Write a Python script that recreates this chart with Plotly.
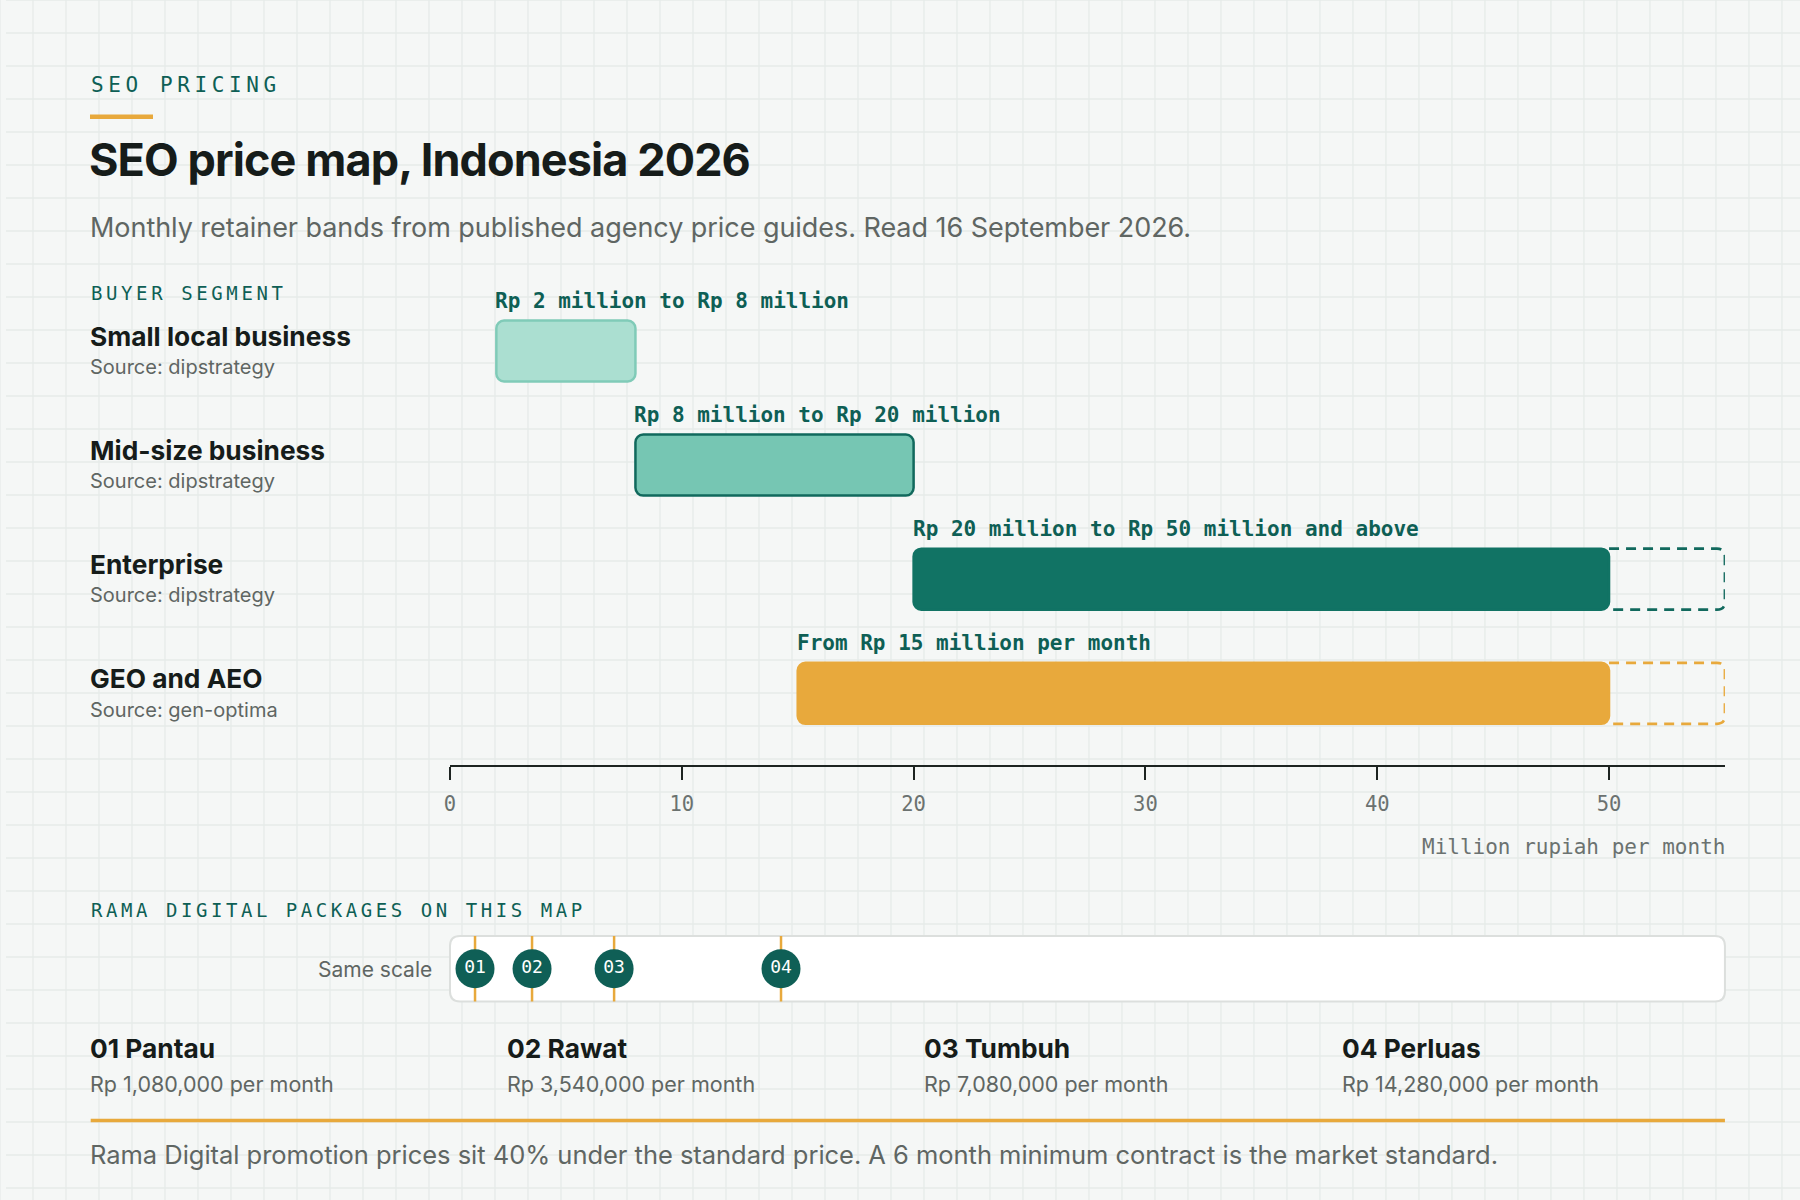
import plotly.graph_objects as go

# ---------------- data ----------------
segments = ["Small local business", "Mid-size business", "Enterprise", "GEO and AEO"]
sources = ["dipstrategy", "dipstrategy", "dipstrategy", "gen-optima"]
band_low = [2, 8, 20, 15]
band_high = [8, 20, 50, 50]
open_ended = [False, False, True, True]
band_labels = [
    "Rp 2 million to Rp 8 million",
    "Rp 8 million to Rp 20 million",
    "Rp 20 million to Rp 50 million and above",
    "From Rp 15 million per month",
]
axis_max = 55
tick_values = [0, 10, 20, 30, 40, 50]

package_codes = ["01", "02", "03", "04"]
package_names = ["Pantau", "Rawat", "Tumbuh", "Perluas"]
package_prices = [1080000, 3540000, 7080000, 14280000]

# ---------------- style ----------------
W, H = 1800, 1200
BG = "#f5f7f6"
GRID = "#e6ebe9"
TEAL_TXT = "#0e5f55"
DARK = "#161c1a"
GRAY = "#5f6663"
TICKGRAY = "#6b7270"
ORANGE = "#e8a93c"
MARK = "#0f5f56"
fills = ["#abdfd1", "#76c6b3", "#117364", ORANGE]
lines = ["#80cbb8", "#11695d", "#117364", ORANGE]
ext_colors = ["#11695d", "#11695d", "#11695d", ORANGE]

SANS = "Inter"
MONO = "DejaVu Sans Mono"

# small horizontal calibration of the page placement
OFFX, SX = 6.0, 0.9967


def px(x):
    return ((x - OFFX) / SX) / W


def py(y):
    return 1 - y / H


X_LEFT, X_RIGHT = 450, 1725
AXIS_PX = 764.6
TOP_PX = 250
ROW0_PX = 351
ROW_STEP = 114.1
BAR_PX = 61
bar_w = BAR_PX / ROW_STEP
y_bottom = (AXIS_PX - ROW0_PX) / ROW_STEP
y_top = (TOP_PX - ROW0_PX) / ROW_STEP
unit_px = (X_RIGHT - X_LEFT) / axis_max
TX = 88  # left edge of text column

rows = list(range(len(segments)))

fig = go.Figure()

fig.add_trace(go.Bar(
    y=rows,
    base=band_low,
    x=[h - l for l, h in zip(band_low, band_high)],
    orientation="h",
    width=bar_w,
    marker=dict(color=fills, line=dict(color=lines, width=2.5), cornerradius=8),
    hoverinfo="skip",
    showlegend=False,
))

fig.add_trace(go.Scatter(
    x=[p / 1e6 for p in package_prices],
    y=[0] * len(package_prices),
    xaxis="x2",
    yaxis="y2",
    mode="markers+text",
    text=package_codes,
    textposition="middle center",
    marker=dict(size=39, color=MARK),
    textfont=dict(family=MONO, size=18, color="white"),
    hoverinfo="skip",
    showlegend=False,
))

shapes = []
# background grid
for i in range(0, W // 33 + 1):
    shapes.append(dict(type="line", xref="paper", yref="paper", x0=px(i * 33), x1=px(i * 33),
                       y0=0, y1=1, line=dict(color=GRID, width=1.3), layer="below"))
for j in range(0, H // 33 + 1):
    shapes.append(dict(type="line", xref="paper", yref="paper", x0=0, x1=1,
                       y0=py(j * 33), y1=py(j * 33), line=dict(color=GRID, width=1.3), layer="below"))

# short orange rule under kicker
shapes.append(dict(type="rect", xref="paper", yref="paper", x0=px(90), x1=px(153),
                   y0=py(119), y1=py(114.5), fillcolor=ORANGE, line=dict(width=0), layer="below"))

# package strip
sx0, sx1 = px(X_LEFT), px(X_RIGHT)
sy0, sy1 = py(1001.5), py(936)
rx, ry = 10 / W, 10 / H
strip_path = (f"M {sx0+rx},{sy1} L {sx1-rx},{sy1} Q {sx1},{sy1} {sx1},{sy1-ry} "
              f"L {sx1},{sy0+ry} Q {sx1},{sy0} {sx1-rx},{sy0} L {sx0+rx},{sy0} "
              f"Q {sx0},{sy0} {sx0},{sy0+ry} L {sx0},{sy1-ry} Q {sx0},{sy1} {sx0+rx},{sy1} Z")
shapes.append(dict(type="path", xref="paper", yref="paper", path=strip_path,
                   fillcolor="white", line=dict(color="#dcdfdd", width=2), layer="below"))
for p in package_prices:
    shapes.append(dict(type="line", xref="x", yref="paper", x0=p / 1e6, x1=p / 1e6,
                       y0=sy0, y1=sy1, line=dict(color=ORANGE, width=2.5), layer="below"))

# dashed open-ended extensions
rxd = 8 / unit_px
ryd = 8 / ROW_STEP
for k, (hi, oe) in enumerate(zip(band_high, open_ended)):
    if not oe:
        continue
    t, b = k - bar_w / 2, k + bar_w / 2
    X = axis_max
    path = (f"M {hi},{t} L {X-rxd},{t} Q {X},{t} {X},{t+ryd} L {X},{b-ryd} "
            f"Q {X},{b} {X-rxd},{b} L {hi},{b}")
    shapes.append(dict(type="path", xref="x", yref="y", path=path,
                       line=dict(color=ext_colors[k], width=2.7, dash="10px,7px")))

# footer rule
shapes.append(dict(type="line", xref="paper", yref="paper", x0=px(90.7), x1=px(X_RIGHT),
                   y0=py(1120.5), y1=py(1120.5), line=dict(color=ORANGE, width=3.5), layer="below"))

ann = []


def text(t, x, y, size, color, family=SANS, xanchor="left", weight=400, ls=None):
    if ls is not None:
        t = f"<span style='letter-spacing:{ls}px'>{t}</span>"
    ann.append(dict(text=t, x=px(x), y=py(y), xref="paper", yref="paper", xanchor=xanchor,
                    yanchor="middle", showarrow=False,
                    font=dict(family=family, size=size, color=color, weight=weight)))


text("SEO PRICING", TX + 1, 85, 21, TEAL_TXT, family=MONO, ls=4.6)
text("SEO price map, Indonesia 2026", TX - 1, 160, 45, DARK, weight=700, ls=-0.9)
text("Monthly retainer bands from published agency price guides. Read 16 September 2026.",
     TX, 227, 27, GRAY, ls=-0.05)
text("BUYER SEGMENT", TX + 1, 293, 19, TEAL_TXT, family=MONO, ls=3.6)

name_px = [336.4, 450.4, 564.3, 678.5]
src_px = [367.4, 481.3, 595, 709.5]
for k in rows:
    text(segments[k], TX, name_px[k], 26.3, DARK, weight=700)
    text("Source: " + sources[k], TX, src_px[k], 20, GRAY)
    ann.append(dict(text=band_labels[k], x=band_low[k], y=k - bar_w / 2, xref="x", yref="y",
                    xanchor="left", yanchor="bottom", yshift=6, xshift=-3, showarrow=False,
                    font=dict(family=MONO, size=21, color=TEAL_TXT, weight=700)))

text("Million rupiah per month", X_RIGHT + 2, 847, 21, TICKGRAY, family=MONO, xanchor="right")
text("RAMA DIGITAL PACKAGES ON THIS MAP", TX + 1, 910, 19, TEAL_TXT, family=MONO, ls=3.55)
text("Same scale", 434, 969, 21, GRAY, xanchor="right")

col_px = [TX, TX + 417, TX + 834, TX + 1252]
for i in range(len(package_codes)):
    text(f"{package_codes[i]} {package_names[i]}", col_px[i], 1048, 26.3, DARK, weight=700)
    text(f"Rp {package_prices[i]:,} per month", col_px[i], 1084, 21.5, GRAY)

text("Rama Digital promotion prices sit 40% under the standard price. "
     "A 6 month minimum contract is the market standard.", TX, 1154, 25.5, GRAY, ls=-0.03)

fig.update_layout(
    width=W, height=H,
    margin=dict(l=0, r=0, t=0, b=0),
    paper_bgcolor=BG,
    plot_bgcolor="rgba(0,0,0,0)",
    showlegend=False,
    shapes=shapes,
    annotations=ann,
    bargap=0,
    xaxis=dict(domain=[px(X_LEFT), px(X_RIGHT)], range=[0, axis_max], anchor="y",
               showline=True, linecolor="#1d2421", linewidth=2,
               ticks="outside", ticklen=13, tickwidth=2, tickcolor="#1d2421",
               tickvals=tick_values, ticktext=[str(v) for v in tick_values],
               tickfont=dict(family=MONO, size=20.5, color=TICKGRAY),
               ticklabelstandoff=7,
               showgrid=False, zeroline=False, fixedrange=True),
    yaxis=dict(domain=[py(AXIS_PX), py(TOP_PX)], range=[y_bottom, y_top], visible=False,
               fixedrange=True),
    xaxis2=dict(domain=[px(X_LEFT), px(X_RIGHT)], range=[0, axis_max], anchor="y2",
                visible=False, fixedrange=True),
    yaxis2=dict(domain=[sy0, sy1], range=[-1, 1], visible=False, fixedrange=True),
)

fig.write_html(
    "out.html",
    config={"displayModeBar": False, "staticPlot": True},
    post_script="document.body.style.margin='0';document.body.style.overflow='hidden';",
)
